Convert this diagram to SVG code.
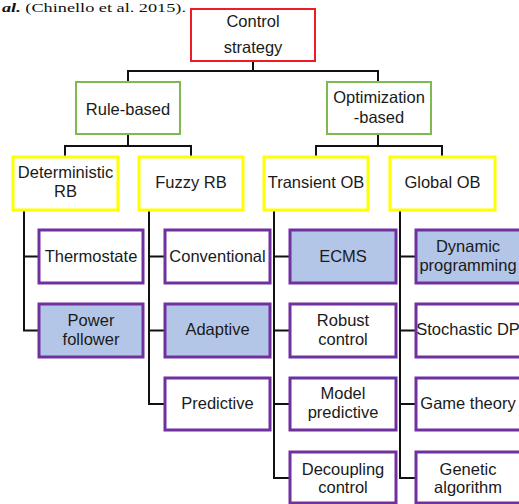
<svg xmlns="http://www.w3.org/2000/svg" width="519" height="504" viewBox="0 0 519 504">
<style>
.t{font-family:"Liberation Sans",Arial,sans-serif;font-size:16.5px;fill:#1a1a1a;text-anchor:middle}
.red{fill:#fff;stroke:#ee1c24;stroke-width:2}
.grn{fill:#fff;stroke:#7dba4f;stroke-width:2}
.yel{fill:#fff;stroke:#ffff00;stroke-width:3}
.pur{fill:#fff;stroke:#7030a0;stroke-width:3}
.pur.hl{fill:#b4c6e7}
.c{fill:none;stroke:#111;stroke-width:2}
.cap{font-family:"Liberation Serif","Times New Roman",serif;font-size:12px;fill:#111}
</style>
<rect width="519" height="504" fill="#fff"/>
<text class="cap" x="2" y="12" textLength="184" lengthAdjust="spacingAndGlyphs"><tspan font-style="italic" font-weight="bold">al.</tspan> (Chinello et al. 2015).</text>
<g id="connectors">
<path class="c" d="M253 61V71M128 82V71H378V82"/>
<path class="c" d="M128 134V146M65 157V146H191V157"/>
<path class="c" d="M378 134V146M316 157V146H442V157"/>
<path class="c" d="M24 210V330.5H39M24 256.5H39"/>
<path class="c" d="M149 210V404H165M149 256.5H165M149 330.5H165"/>
<path class="c" d="M274 210V478H290M274 256.5H290M274 330.5H290M274 404H290"/>
<path class="c" d="M400 210V478H416M400 256.5H416M400 330.5H416M400 404H416"/>
</g>
<g id="n-control"><rect class="red" x="191" y="9" width="124" height="52"/><text class="t" x="253" y="27">Control</text><text class="t" x="253" y="53">strategy</text></g>
<g id="n-rule"><rect class="grn" x="76" y="82" width="104" height="52"/><text class="t" x="128" y="115">Rule-based</text></g>
<g id="n-opt"><rect class="grn" x="327" y="82" width="104" height="52"/><text class="t" x="379" y="103">Optimization</text><text class="t" x="379" y="123">-based</text></g>
<g id="n-det"><rect class="yel" x="13" y="157" width="105" height="53"/><text class="t" x="65.5" y="178">Deterministic</text><text class="t" x="65.5" y="197">RB</text></g>
<g id="n-fuzzy"><rect class="yel" x="139" y="157" width="104" height="53"/><text class="t" x="191" y="188">Fuzzy RB</text></g>
<g id="n-trans"><rect class="yel" x="264" y="157" width="104" height="53"/><text class="t" x="316" y="188">Transient OB</text></g>
<g id="n-global"><rect class="yel" x="390" y="157" width="105" height="53"/><text class="t" x="442.5" y="188">Global OB</text></g>
<g id="n-thermo"><rect class="pur" x="39" y="230" width="104" height="53"/><text class="t" x="91" y="262">Thermostate</text></g>
<g id="n-power"><rect class="pur hl" x="39" y="304" width="104" height="53"/><text class="t" x="91" y="326">Power</text><text class="t" x="91" y="345">follower</text></g>
<g id="n-conv"><rect class="pur" x="165" y="230" width="105" height="53"/><text class="t" x="217.5" y="262">Conventional</text></g>
<g id="n-adapt"><rect class="pur hl" x="165" y="304" width="105" height="53"/><text class="t" x="217.5" y="335">Adaptive</text></g>
<g id="n-pred"><rect class="pur" x="165" y="378" width="105" height="52"/><text class="t" x="217.5" y="409">Predictive</text></g>
<g id="n-ecms"><rect class="pur hl" x="290" y="230" width="106" height="53"/><text class="t" x="343" y="262">ECMS</text></g>
<g id="n-robust"><rect class="pur" x="290" y="304" width="106" height="53"/><text class="t" x="343" y="326">Robust</text><text class="t" x="343" y="345">control</text></g>
<g id="n-model"><rect class="pur" x="290" y="378" width="106" height="52"/><text class="t" x="343" y="399">Model</text><text class="t" x="343" y="418">predictive</text></g>
<g id="n-decoup"><rect class="pur" x="290" y="452" width="106" height="51"/><text class="t" x="343" y="475">Decoupling</text><text class="t" x="343" y="493">control</text></g>
<g id="n-dp"><rect class="pur hl" x="416" y="230" width="105" height="53"/><text class="t" x="468" y="252">Dynamic</text><text class="t" x="468" y="271">programming</text></g>
<g id="n-sdp"><rect class="pur" x="416" y="304" width="105" height="53"/><text class="t" x="468" y="335">Stochastic DP</text></g>
<g id="n-game"><rect class="pur" x="416" y="378" width="105" height="52"/><text class="t" x="468" y="409">Game theory</text></g>
<g id="n-ga"><rect class="pur" x="416" y="452" width="105" height="51"/><text class="t" x="468" y="475">Genetic</text><text class="t" x="468" y="493">algorithm</text></g>
</svg>
